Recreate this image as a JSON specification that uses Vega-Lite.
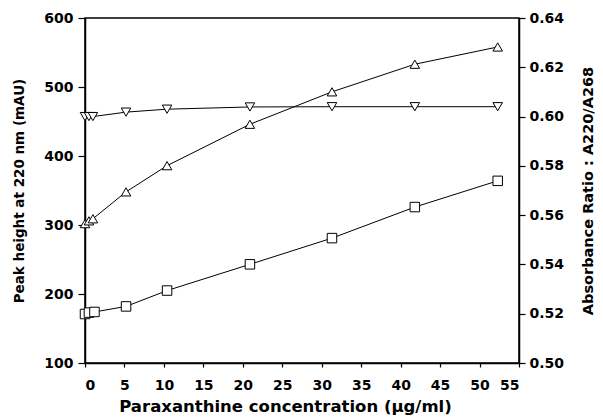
{
  "$schema": "https://vega.github.io/schema/vega-lite/v6.json",
  "width": 434,
  "height": 345,
  "autosize": {"type": "none"},
  "padding": {"left": 85, "top": 18, "right": 84, "bottom": 55},
  "background": "white",
  "config": {
    "view": {"stroke": "black", "strokeWidth": 1.5},
    "font": "DejaVu Sans",
    "axis": {
      "domainColor": "black", "domainWidth": 1.5, "tickColor": "black", "tickWidth": 1.2,
      "tickSize": 6, "grid": false, "labelFont": "DejaVu Sans", "labelFontWeight": "bold",
      "labelFontSize": 14, "labelColor": "black", "titleFont": "DejaVu Sans",
      "titleFontWeight": "bold", "titleColor": "black", "labelOverlap": false
    }
  },
  "datasets": {
    "peak": [
      {"conc": 0, "value": 302, "series": "up"},
      {"conc": 0.5, "value": 306, "series": "up"},
      {"conc": 1.0, "value": 309, "series": "up"},
      {"conc": 5.2, "value": 348, "series": "up"},
      {"conc": 10.4, "value": 386, "series": "up"},
      {"conc": 20.9, "value": 446, "series": "up"},
      {"conc": 31.3, "value": 493, "series": "up"},
      {"conc": 41.8, "value": 533, "series": "up"},
      {"conc": 52.3, "value": 558, "series": "up"},
      {"conc": 0, "value": 171, "series": "sq"},
      {"conc": 0.5, "value": 173, "series": "sq"},
      {"conc": 1.2, "value": 174, "series": "sq"},
      {"conc": 5.2, "value": 182, "series": "sq"},
      {"conc": 10.4, "value": 205, "series": "sq"},
      {"conc": 20.9, "value": 243, "series": "sq"},
      {"conc": 31.3, "value": 281, "series": "sq"},
      {"conc": 41.8, "value": 326, "series": "sq"},
      {"conc": 52.3, "value": 364, "series": "sq"}
    ],
    "ratio": [
      {"conc": 0, "ratio": 0.6000},
      {"conc": 0.5, "ratio": 0.6000},
      {"conc": 1.0, "ratio": 0.6000},
      {"conc": 5.2, "ratio": 0.6018},
      {"conc": 10.4, "ratio": 0.6030},
      {"conc": 20.9, "ratio": 0.6039},
      {"conc": 31.3, "ratio": 0.6040},
      {"conc": 41.8, "ratio": 0.6040},
      {"conc": 52.3, "ratio": 0.6040}
    ]
  },
  "layer": [
    {
      "data": {"name": "peak"},
      "layer": [
        {
          "mark": {"type": "line", "color": "black", "strokeWidth": 1},
          "encoding": {"detail": {"field": "series"}}
        },
        {
          "mark": {"type": "point", "filled": true, "fill": "white", "stroke": "black", "strokeWidth": 1, "size": 90, "opacity": 1},
          "encoding": {
            "shape": {"field": "series", "type": "nominal", "scale": {"domain": ["up", "sq"], "range": ["triangle-up", "square"]}, "legend": null}
          }
        }
      ],
      "encoding": {
        "x": {"field": "conc", "type": "quantitative", "scale": {"domain": [0, 55], "nice": false},
          "axis": {"values": [0,5,10,15,20,25,30,35,40,45,50,55], "title": "Paraxanthine concentration (µg/ml)", "titleFontSize": 16.5, "titlePadding": 6, "titleX": 200, "labelPadding": 11, "tickSize": 4}},
        "y": {"field": "value", "type": "quantitative", "scale": {"domain": [100, 600], "nice": false},
          "axis": {"values": [100,200,300,400,500,600], "title": "Peak height at 220 nm (mAU)", "titleFontSize": 13.5, "titlePadding": 17, "labelPadding": 5, "tickSize": 7}}
      }
    },
    {
      "data": {"name": "ratio"},
      "layer": [
        {
          "mark": {"type": "line", "color": "black", "strokeWidth": 1},
          "encoding": {}
        },
        {
          "mark": {"type": "point", "shape": "triangle-down", "filled": true, "fill": "white", "stroke": "black", "strokeWidth": 1, "size": 90, "opacity": 1},
          "encoding": {}
        }
      ],
      "encoding": {
        "x": {"field": "conc", "type": "quantitative", "scale": {"domain": [0, 55], "nice": false},
          "axis": {"values": [0,5,10,15,20,25,30,35,40,45,50,55], "title": "Paraxanthine concentration (µg/ml)", "titleFontSize": 16.5, "titlePadding": 6, "titleX": 200, "labelPadding": 11, "tickSize": 4}},
        "y": {"field": "ratio", "type": "quantitative", "scale": {"domain": [0.5, 0.64], "nice": false},
          "axis": {"orient": "right", "values": [0.5,0.52,0.54,0.56,0.58,0.6,0.62,0.64], "format": ".2f", "title": "Absorbance Ratio : A220/A268", "titleFontSize": 14.5, "titleAngle": 270, "titlePadding": 32, "labelPadding": 4, "tickSize": 6}}
      }
    }
  ],
  "resolve": {"scale": {"y": "independent"}}
}
